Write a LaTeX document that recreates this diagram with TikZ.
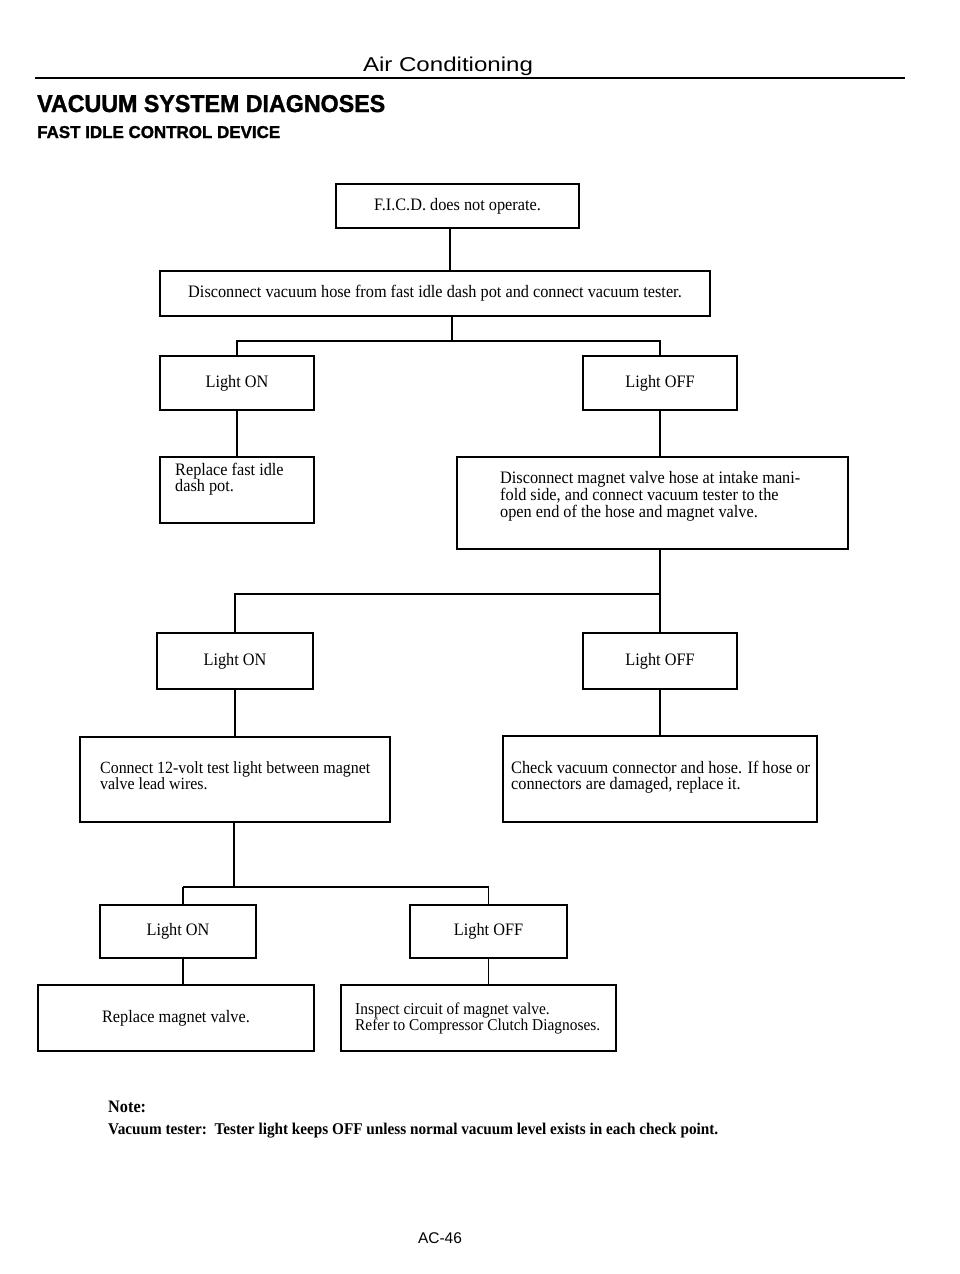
\documentclass[tikz,border=0pt]{standalone}
\usepackage{graphicx}
\usepackage{fontspec}
\setmainfont{Liberation Serif}[FakeStretch=0.93]
\newfontfamily\hsans{Liberation Sans}
\newfontfamily\heavy{Liberation Sans Bold}[FakeBold=1.5]
\newcommand\bodyfont{\fontsize{17.5}{16}\selectfont}
\newcommand\lines[1]{\begin{tabular}[t]{@{}l@{}}#1\end{tabular}}
\begin{document}
\begin{tikzpicture}[x=1pt,y=-1pt,
  box/.style={draw, line width=1.8pt, inner sep=0pt, align=left, font=\bodyfont},
  conn/.style={line width=1.5pt},
  txt/.style={inner sep=0pt, anchor=base west, font=\bodyfont}]
\useasboundingbox[fill=white] (0,0) rectangle (960,1274);

% header
\node[inner sep=0pt, anchor=base] (hdr) at (448,71) {\resizebox{170pt}{14.5pt}{\hsans Air Conditioning}};
\coordinate (rl) at (35,78);
\coordinate (rr) at (905,78);
\draw[line width=2.4pt] (rl) -- (rr);
\node[txt] (title) at (37,112) {\resizebox{348pt}{17pt}{\heavy VACUUM SYSTEM DIAGNOSES}};
\node[txt] (sub) at (37,138) {\resizebox{243pt}{12pt}{\heavy FAST IDLE CONTROL DEVICE}};

% boxes
\node[box, minimum width=243pt, minimum height=44pt] (b1) at (457.5,206) {F.I.C.D. does not operate.};
\node[box, minimum width=550pt, minimum height=45pt] (b2) at (435,293.5) {Disconnect vacuum hose from fast idle dash pot and connect vacuum tester.};
\node[box, minimum width=154pt, minimum height=54pt] (b3) at (237,383) {Light ON};
\node[box, minimum width=154pt, minimum height=54pt] (b4) at (660,383) {Light OFF};
\node[box, minimum width=154pt, minimum height=66pt] (b5) at (237,490) {};
\node[box, minimum width=391pt, minimum height=92pt] (b6) at (652.5,503) {};
\node[box, minimum width=156pt, minimum height=56pt] (b7) at (235,661) {Light ON};
\node[box, minimum width=154pt, minimum height=56pt] (b8) at (660,661) {Light OFF};
\node[box, minimum width=310pt, minimum height=85pt] (b9) at (235,779.5) {};
\node[box, minimum width=314pt, minimum height=86pt] (b10) at (660,779) {};
\node[box, minimum width=156pt, minimum height=53pt] (b11) at (178,931.5) {Light ON};
\node[box, minimum width=157pt, minimum height=53pt] (b12) at (488.5,931.5) {Light OFF};
\node[box, minimum width=276pt, minimum height=66pt] (b13) at (176,1018) {Replace magnet valve.};
\node[box, minimum width=275pt, minimum height=66pt] (b14) at (478.5,1018) {};

% box texts
\node[txt] (t5) at (175,475) {\lines{Replace fast idle\\dash pot.}};
\node[txt] (t6) at (500,483) {\lines{Disconnect magnet valve hose at intake mani-\\fold side, and connect vacuum tester to the\\open end of the hose and magnet valve.}};
\node[txt] (t9) at (100,773) {\resizebox{270pt}{!}{\lines{Connect 12-volt test light between magnet\\valve lead wires.}}};
\node[txt] (t10) at (511,773) {\lines{Check vacuum connector and hose. If hose or\\connectors are damaged, replace it.}};
\node[txt] (t14) at (355,1014) {\resizebox{245pt}{!}{\lines{Inspect circuit of magnet valve.\\Refer to Compressor Clutch Diagnoses.}}};

% connectors
\coordinate (x1) at (450,0);
\coordinate (j1) at (452,341);
\coordinate (j2) at (660,594);
\coordinate (j3) at (234,887);
\coordinate (j4) at (183,887);
\draw[conn] (b1.south -| x1) -- (b2.north -| x1);
\draw[conn] (b2.south -| j1) -- (j1);
\draw[conn] (b3.north) |- (j1) -| (b4.north);
\draw[conn] (b3.south) -- (b5.north);
\draw[conn] (b4.south) -- (b4.south |- b6.north);
\draw[conn] (b6.south -| j2) -- (b8.north);
\draw[conn] (b7.north) |- (j2);
\draw[conn] (b7.south) -- (b7.south |- b9.north);
\draw[conn] (b8.south) -- (b10.north -| b8.south);
\draw[conn] (b9.south -| j3) -- (j3);
\draw[conn] (j4) -- (j3) -| (b12.north);
\draw[conn] (j4) -- (j4 |- b11.north);
\draw[conn] (b11.south -| j4) -- (b13.north -| j4);
\draw[conn] (b12.south) -- (b14.north -| b12.south);

% note
\node[txt, font=\bodyfont\bfseries] (note) at (108,1112) {Note:};
\node[txt, font=\bodyfont\bfseries] (notetext) at (108,1134) {\resizebox{610pt}{!}{Vacuum tester:\ \ Tester light keeps OFF unless normal vacuum level exists in each check point.}};

% footer
\node[inner sep=0pt, anchor=base, font=\hsans\fontsize{15.5}{17}\selectfont] (foot) at (440,1243) {AC-46};
\end{tikzpicture}
\end{document}
